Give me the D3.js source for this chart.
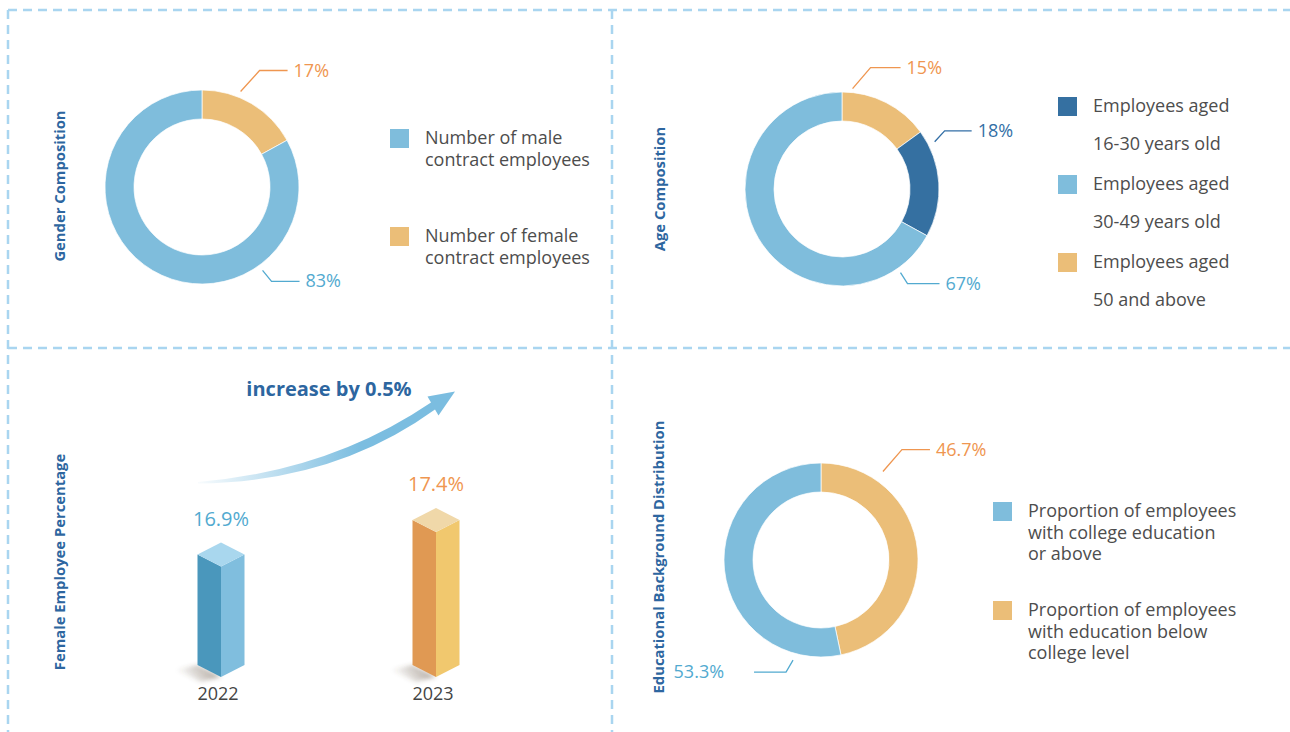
<!DOCTYPE html>
<html>
<head>
<meta charset="utf-8">
<script src="https://cdn.jsdelivr.net/npm/d3@7"></script>
<style>
  html, body { margin: 0; padding: 0; background: #fff; }
  svg { display: block; font-family: "Open Sans", "Noto Sans", sans-serif; }
</style>
</head>
<body>
<svg id="chart" width="1290" height="732"></svg>
<script>
// ---- data ----
const genderKeys = ["female", "male"];
const genderValues = [17, 83];

const ageKeys = ["50plus", "16to30", "30to49"];
const ageValues = [15, 18, 67];

const eduKeys = ["below", "college"];
const eduValues = [46.7, 53.3];

const years = ["2022", "2023"];
const femalePct = [16.9, 17.4];
const increaseText = "increase by 0.5%";

// ---- styles ----
const C = {
  light: "#7fbddc", orange: "#ebbe78", dark: "#3570a1",
  title: "#2d66a0", text: "#4d4d4d",
  lblBlue: "#52aad0", lblOrange: "#ef9650", lblDark: "#336fa6",
  dash: "#a9d5f0"
};
const segColor = {
  female: C.orange, male: C.light,
  "50plus": C.orange, "16to30": C.dark, "30to49": C.light,
  below: C.orange, college: C.light
};
const lblColor = {
  female: C.lblOrange, male: C.lblBlue,
  "50plus": C.lblOrange, "16to30": C.lblDark, "30to49": C.lblBlue,
  below: C.lblOrange, college: C.lblBlue
};

const svg = d3.select("#chart");
const defs = svg.append("defs");

// ---- panel frame (dashed) ----
const frame = svg.append("g").attr("fill", "none").attr("stroke", C.dash)
  .attr("stroke-width", 2.5).attr("stroke-dasharray", "9 6");
frame.append("line").attr("x1", 8).attr("y1", 10).attr("x2", 1290).attr("y2", 10);
frame.append("line").attr("x1", 8).attr("y1", 10).attr("x2", 8).attr("y2", 732);
frame.append("line").attr("x1", 612).attr("y1", 10).attr("x2", 612).attr("y2", 732);
frame.append("line").attr("x1", 8).attr("y1", 348).attr("x2", 1290).attr("y2", 348);

// ---- vertical panel titles ----
function vTitle(x, y, text) {
  svg.append("text")
    .attr("transform", `translate(${x},${y}) rotate(-90)`)
    .attr("text-anchor", "middle")
    .attr("font-size", 14.8).attr("font-weight", 700)
    .attr("fill", C.title).text(text);
}
vTitle(65, 186, "Gender Composition");
vTitle(665, 189, "Age Composition");
vTitle(65, 562, "Female Employee Percentage");
vTitle(664, 557, "Educational Background Distribution");

// ---- donut helper ----
const R_OUT = 97, R_IN = 68;
const arc = d3.arc().innerRadius(R_IN).outerRadius(R_OUT);
const deg = Math.PI / 180;

function donut(cx, cy, keys, values, callouts) {
  const pie = d3.pie().sort(null).value(d => d.v);
  const data = pie(keys.map((k, i) => ({ k, v: values[i] })));
  const g = svg.append("g").attr("transform", `translate(${cx},${cy})`);
  g.selectAll("path").data(data).join("path")
    .attr("d", arc)
    .attr("fill", d => segColor[d.data.k])
    .attr("stroke", "#fff").attr("stroke-width", 0.7);

  // leader lines + value labels
  data.forEach((d, i) => {
    const c = callouts[i];
    const a = c.angle * deg;
    const p0 = [c.r * Math.sin(a), -c.r * Math.cos(a)];
    const p1 = [p0[0] + c.elbow[0], p0[1] + c.elbow[1]];
    const p2 = [p1[0] + c.run, p1[1]];
    const col = lblColor[d.data.k];
    g.append("polyline")
      .attr("points", [p0, p1, p2].map(p => p.join(",")).join(" "))
      .attr("fill", "none").attr("stroke", col).attr("stroke-width", 1.3);
    const right = c.run > 0;
    const gap = c.gap || 6;
    g.append("text")
      .attr("x", p2[0] + (right ? gap : -gap)).attr("y", p2[1] + 6)
      .attr("text-anchor", right ? "start" : "end")
      .attr("font-size", 18).attr("font-weight", 400)
      .attr("fill", col)
      .text(d3.format(".3~")(d.data.v) + "%");
  });
}

// ---- legend helper ----
function legend(x, items, lineGap) {
  const g = svg.append("g");
  items.forEach(it => {
    g.append("rect").attr("x", x).attr("y", it.y).attr("width", 19).attr("height", 19)
      .attr("fill", it.color);
    const t = g.append("text").attr("font-size", 18).attr("fill", C.text);
    it.lines.forEach((ln, j) => {
      t.append("tspan").attr("x", x + 35).attr("y", it.y + 15 + j * lineGap).text(ln);
    });
  });
}

// Gender composition
donut(202, 187, genderKeys, genderValues, [
  { angle: 22, r: 103, elbow: [19, -21], run: 28 },
  { angle: 144, r: 103, elbow: [9, 11], run: 28 }
]);
legend(390, [
  { y: 129, color: C.light, lines: ["Number of male", "contract employees"] },
  { y: 227, color: C.orange, lines: ["Number of female", "contract employees"] }
], 22);

// Age composition
donut(842, 189, ageKeys, ageValues, [
  { angle: 6, r: 101, elbow: [18, -21], run: 30 },
  { angle: 63, r: 104, elbow: [10, -11], run: 27 },
  { angle: 145, r: 102, elbow: [7, 11], run: 32 }
]);
legend(1058, [
  { y: 97, color: C.dark, lines: ["Employees aged", "16-30 years old"] },
  { y: 175, color: C.light, lines: ["Employees aged", "30-49 years old"] },
  { y: 253, color: C.orange, lines: ["Employees aged", "50 and above"] }
], 38);

// Educational background
donut(821, 560, eduKeys, eduValues, [
  { angle: 35, r: 108, elbow: [19, -22], run: 28 },
  { angle: 195.6, r: 104, elbow: [-7, 12], run: -32, gap: 30 }
]);
legend(993, [
  { y: 502, color: C.light, lines: ["Proportion of employees", "with college education", "or above"] },
  { y: 601, color: C.orange, lines: ["Proportion of employees", "with education below", "college level"] }
], 21.5);

// ---- Female employee percentage: isometric bars ----
const x = d3.scalePoint().domain(years).range([221, 436]);
const y = d3.scaleLinear().domain([15.3, 17.4]).range([677, 532]);
const HW = 23.5, HD = 12; // half-width and half-depth of the isometric prism

const barPalette = [
  { left: "#4a97bc", right: "#80bede", top: "#a9d7ee", label: C.lblBlue },
  { left: "#e09953", right: "#f1c86e", top: "#f0d8a9", label: C.lblOrange }
];

// cast shadow: fades out toward the left, softened
const sg = defs.append("linearGradient").attr("id", "shadowGrad")
  .attr("x1", "1").attr("y1", "0").attr("x2", "0").attr("y2", "0.3");
sg.append("stop").attr("offset", "0%").attr("stop-color", "#5e4c3a").attr("stop-opacity", 0.6);
sg.append("stop").attr("offset", "100%").attr("stop-color", "#5e4c3a").attr("stop-opacity", 0);
defs.append("filter").attr("id", "soft").attr("x", "-50%").attr("y", "-50%")
  .attr("width", "200%").attr("height", "200%")
  .append("feGaussianBlur").attr("stdDeviation", 2.2);

const bars = svg.append("g");
years.forEach((yr, i) => {
  const cx = x(yr), base = y.range()[0], top = y(femalePct[i]);
  const pal = barPalette[i];
  bars.append("path")
    .attr("d", `M${cx},${base} L${cx - HW},${base - HD} L${cx - HW - 22},${base - HD + 5} L${cx - 20},${base + 5} Z`)
    .attr("fill", "url(#shadowGrad)").attr("filter", "url(#soft)");
  // left face
  bars.append("path").attr("fill", pal.left)
    .attr("d", `M${cx},${top} L${cx - HW},${top - HD} L${cx - HW},${base - HD} L${cx},${base} Z`);
  // right face
  bars.append("path").attr("fill", pal.right)
    .attr("d", `M${cx},${top} L${cx + HW},${top - HD} L${cx + HW},${base - HD} L${cx},${base} Z`);
  // top face
  bars.append("path").attr("fill", pal.top)
    .attr("d", `M${cx},${top} L${cx - HW},${top - HD} L${cx},${top - 2 * HD} L${cx + HW},${top - HD} Z`);
  // value label
  bars.append("text").attr("x", cx).attr("y", top - 2 * HD - 17)
    .attr("text-anchor", "middle").attr("font-size", 20).attr("font-weight", 400)
    .attr("fill", pal.label).text(femalePct[i].toFixed(1) + "%");
  // year label
  bars.append("text").attr("x", cx - 3).attr("y", 700)
    .attr("text-anchor", "middle").attr("font-size", 18).attr("fill", "#444")
    .text(yr);
});

// ---- growth arrow ----
const ag = defs.append("linearGradient").attr("id", "arrowGrad")
  .attr("gradientUnits", "userSpaceOnUse")
  .attr("x1", 198).attr("y1", 0).attr("x2", 360).attr("y2", 0);
ag.append("stop").attr("offset", "0%").attr("stop-color", "#7bbde0").attr("stop-opacity", 0.05);
ag.append("stop").attr("offset", "100%").attr("stop-color", "#7bbde0").attr("stop-opacity", 1);

const ap = d3.path();
ap.moveTo(198, 482);
ap.quadraticCurveTo(330, 471, 431, 402.5);
ap.lineTo(427.5, 396.5);
ap.lineTo(455, 391.5);
ap.lineTo(438.5, 415.5);
ap.lineTo(435, 409.5);
ap.quadraticCurveTo(335, 482, 198, 483.5);
ap.closePath();
svg.append("path").attr("d", ap.toString()).attr("fill", "url(#arrowGrad)");

svg.append("text").attr("x", 329).attr("y", 396)
  .attr("text-anchor", "middle").attr("font-size", 20).attr("font-weight", 700)
  .attr("fill", C.title).text(increaseText);
</script>
</body>
</html>
